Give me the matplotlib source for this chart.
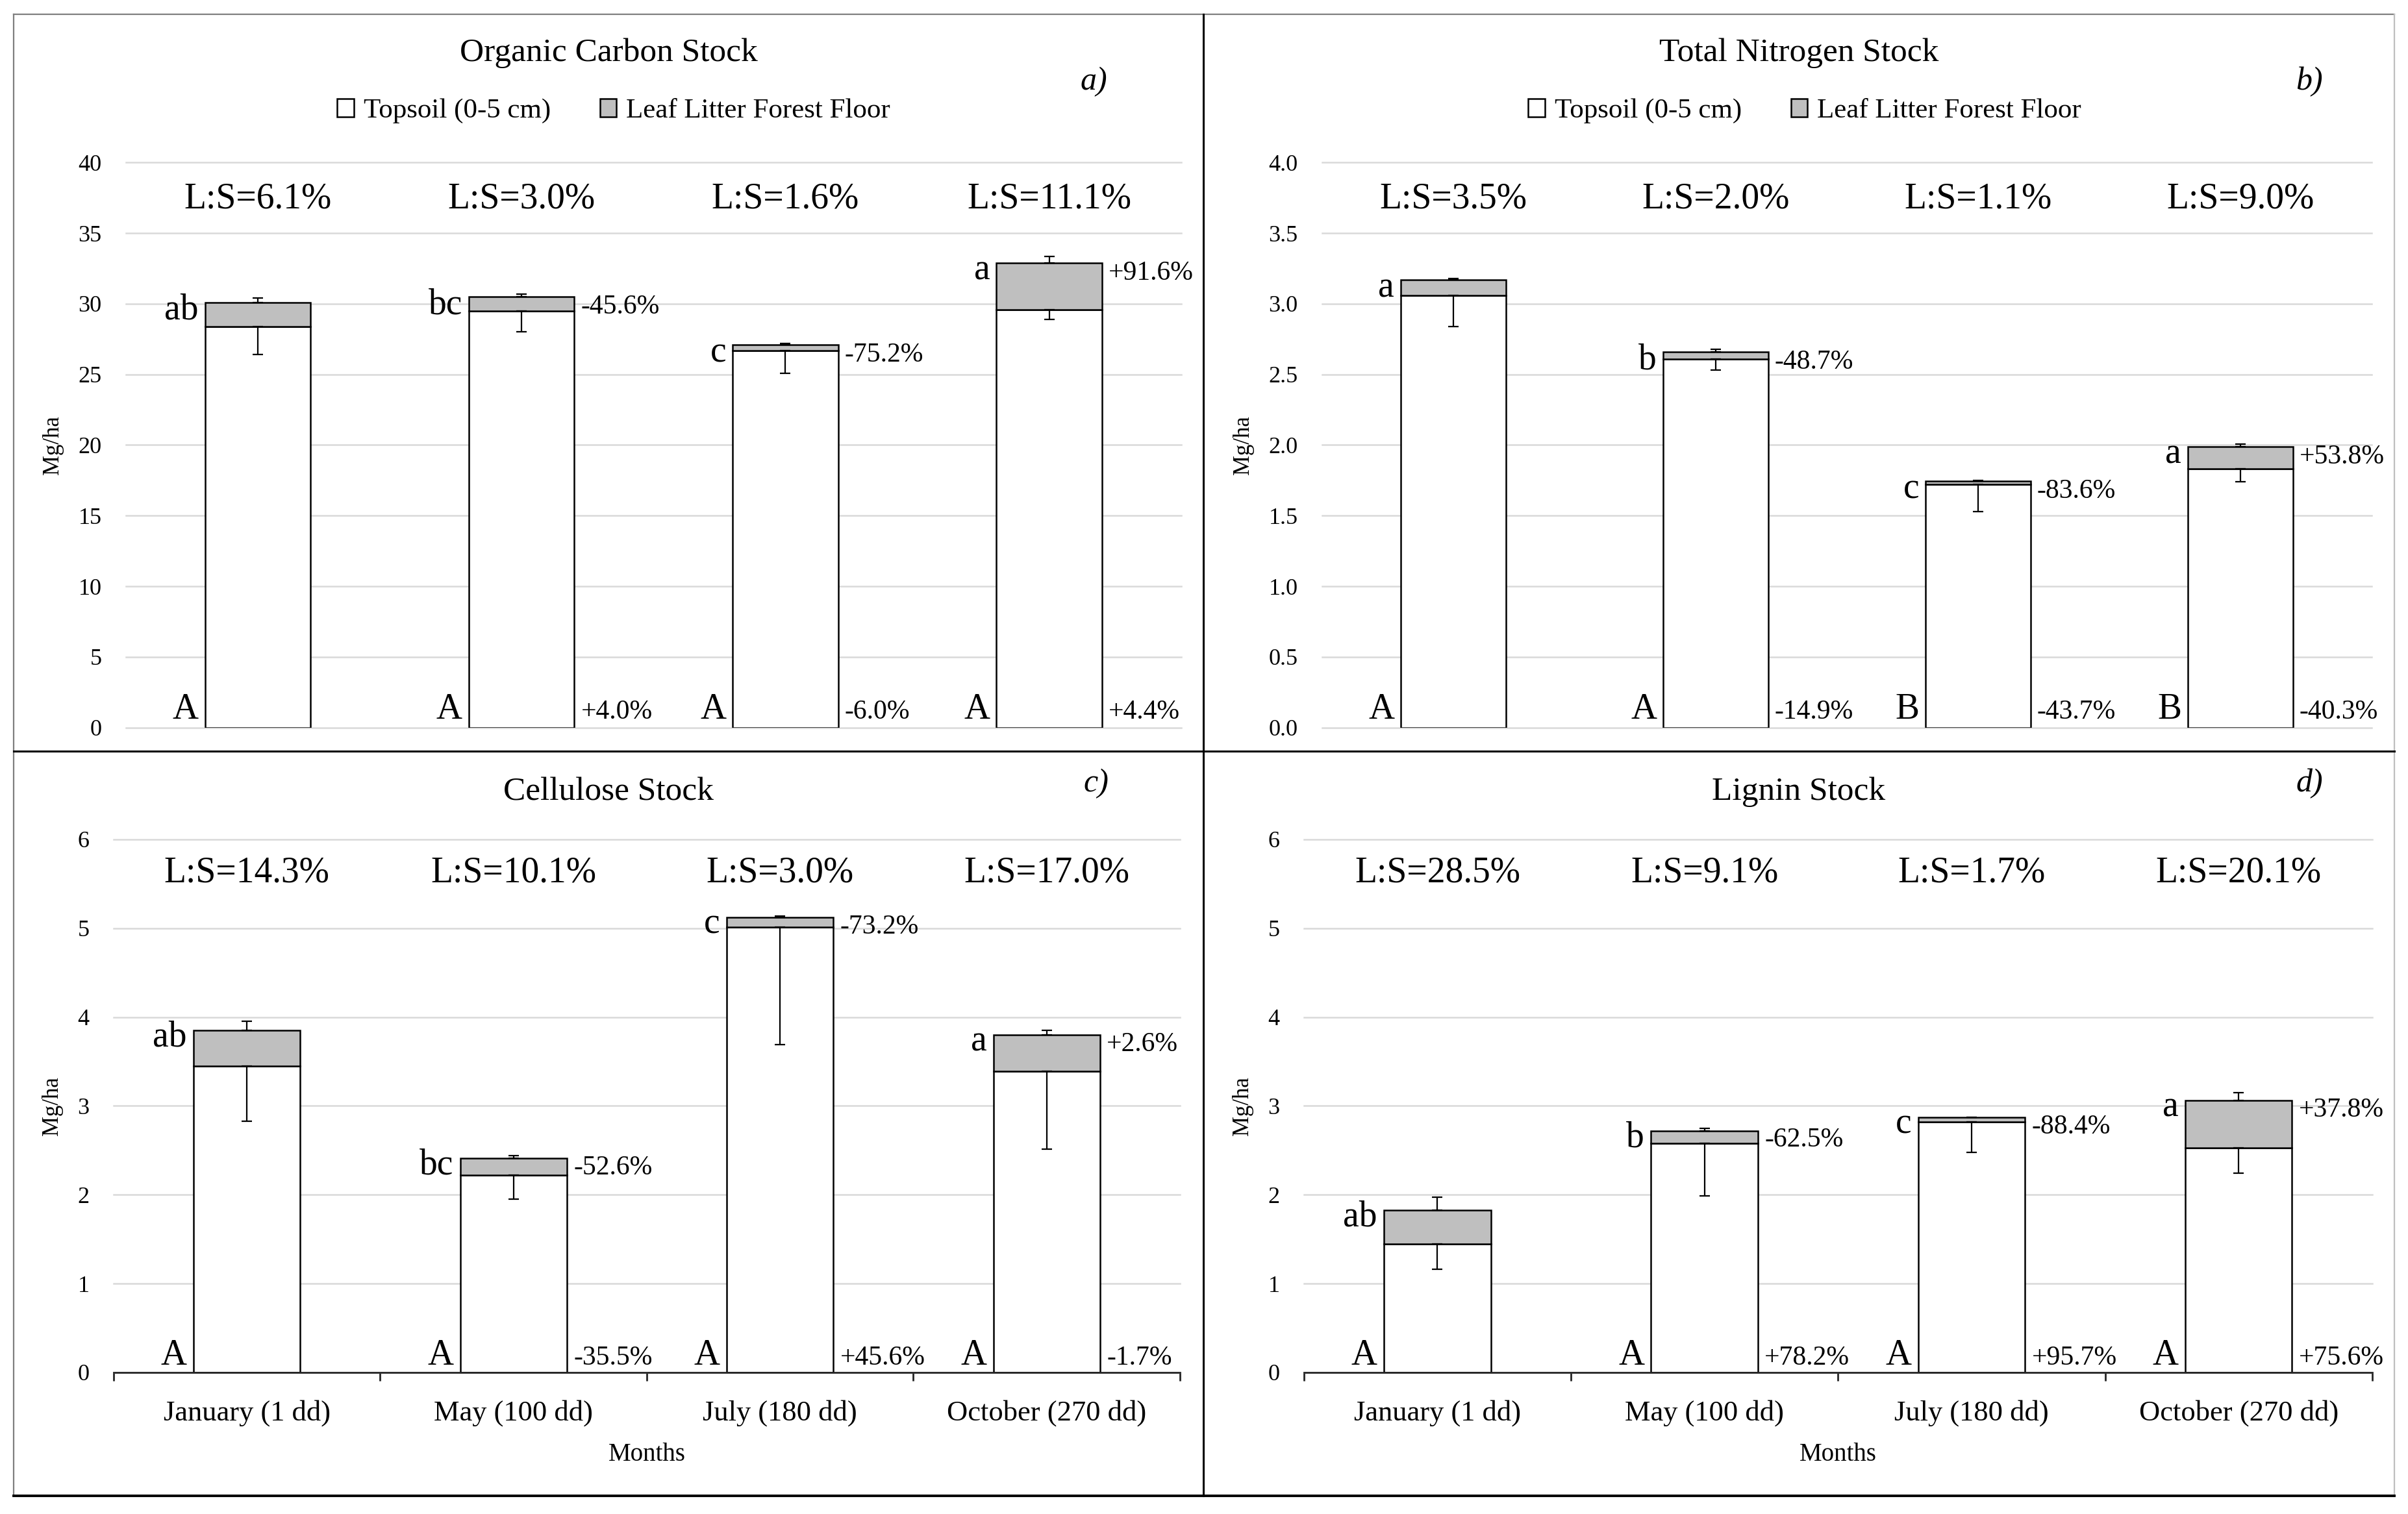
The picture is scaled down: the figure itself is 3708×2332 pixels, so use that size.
import numpy as np
import matplotlib
matplotlib.use("Agg")
import matplotlib.pyplot as plt
from matplotlib.lines import Line2D
from matplotlib.patches import Patch
from matplotlib.ticker import FormatStrFormatter, MultipleLocator

plt.rcParams["font.family"] = ["Liberation Serif", "DejaVu Serif"]

# ==================================================
# DATA (Mg/ha)
# ==================================================
months = ["January (1 dd)", "May (100 dd)", "July (180 dd)", "October (270 dd)"]

# a) Organic carbon
oc_soil = [28.4, 29.5, 26.7, 29.6]
oc_soil_err = [2.0, 1.5, 1.6, 0.7]
oc_litter = [1.7, 1.0, 0.4, 3.3]
oc_litter_err = [0.3, 0.2, 0.1, 0.45]
oc_ls = ["6.1", "3.0", "1.6", "11.1"]
oc_litter_grp = ["ab", "bc", "c", "a"]
oc_soil_grp = ["A", "A", "A", "A"]
oc_litter_pct = ["", "-45.6%", "-75.2%", "+91.6%"]
oc_soil_pct = ["", "+4.0%", "-6.0%", "+4.4%"]

# b) Total nitrogen
tn_soil = [3.06, 2.61, 1.72, 1.83]
tn_soil_err = [0.22, 0.08, 0.19, 0.09]
tn_litter = [0.11, 0.05, 0.025, 0.16]
tn_litter_err = [0.01, 0.02, 0.005, 0.015]
tn_ls = ["3.5", "2.0", "1.1", "9.0"]
tn_litter_grp = ["a", "b", "c", "a"]
tn_soil_grp = ["A", "A", "B", "B"]
tn_litter_pct = ["", "-48.7%", "-83.6%", "+53.8%"]
tn_soil_pct = ["", "-14.9%", "-43.7%", "-40.3%"]

# c) Cellulose
ce_soil = [3.45, 2.22, 5.01, 3.39]
ce_soil_err = [0.62, 0.27, 1.32, 0.88]
ce_litter = [0.40, 0.19, 0.11, 0.41]
ce_litter_err = [0.10, 0.03, 0.015, 0.05]
ce_ls = ["14.3", "10.1", "3.0", "17.0"]
ce_litter_grp = ["ab", "bc", "c", "a"]
ce_soil_grp = ["A", "A", "A", "A"]
ce_litter_pct = ["", "-52.6%", "-73.2%", "+2.6%"]
ce_soil_pct = ["", "-35.5%", "+45.6%", "-1.7%"]

# d) Lignin
lg_soil = [1.45, 2.58, 2.82, 2.53]
lg_soil_err = [0.29, 0.59, 0.34, 0.29]
lg_litter = [0.38, 0.14, 0.05, 0.53]
lg_litter_err = [0.14, 0.03, 0.005, 0.09]
lg_ls = ["28.5", "9.1", "1.7", "20.1"]
lg_litter_grp = ["ab", "b", "c", "a"]
lg_soil_grp = ["A", "A", "A", "A"]
lg_litter_pct = ["", "-62.5%", "-88.4%", "+37.8%"]
lg_soil_pct = ["", "+78.2%", "+95.7%", "+75.6%"]

SOIL_COLOR = "white"
LITTER_COLOR = "#bfbfbf"


# ==================================================
# ONE PANEL
# ==================================================
def draw_panel(ax, ymax, step, soil, soil_err, litter, litter_err, ls,
               litter_grp, soil_grp, litter_pct, soil_pct, fmt, show_x):
    x = np.arange(len(months))
    soil = np.array(soil)
    litter = np.array(litter)
    total = soil + litter
    zeros = np.zeros(len(x))

    ax.bar(x, soil, width=0.4, color=SOIL_COLOR, edgecolor="black",
           linewidth=0.9, zorder=2)
    ax.bar(x, litter, bottom=soil, width=0.4, color=LITTER_COLOR,
           edgecolor="black", linewidth=0.9, zorder=2)

    # topsoil: minus only, litter: plus only
    ax.errorbar(x, soil, yerr=[soil_err, zeros], fmt="none", ecolor="black",
                elinewidth=0.8, capsize=3.0, capthick=0.8, zorder=3)
    ax.errorbar(x, total, yerr=[zeros, litter_err], fmt="none", ecolor="black",
                elinewidth=0.8, capsize=3.0, capthick=0.8, zorder=3)

    for i in x:
        ax.text(i - 0.225, total[i] - 0.03 * ymax, litter_grp[i],
                ha="right", va="baseline", fontsize=20)
        ax.text(i - 0.225, 0.015 * ymax, soil_grp[i],
                ha="right", va="baseline", fontsize=20)
        ax.text(i + 0.225, total[i] - 0.03 * ymax, litter_pct[i],
                ha="left", va="baseline", fontsize=15)
        ax.text(i + 0.225, 0.015 * ymax, soil_pct[i],
                ha="left", va="baseline", fontsize=15)
        ax.text(i, 0.92 * ymax, f"L:S={ls[i]}%",
                ha="center", va="baseline", fontsize=20)

    ax.set_xlim(-0.5, len(x) - 0.5)
    ax.set_ylim(0, ymax)
    ax.yaxis.set_major_locator(MultipleLocator(step))
    ax.yaxis.set_major_formatter(FormatStrFormatter(fmt))
    ax.yaxis.grid(True, color="#d9d9d9", linewidth=0.9, clip_on=False)
    ax.set_axisbelow(True)
    ax.tick_params(axis="y", length=0, pad=13.5, labelsize=13)
    ax.set_ylabel("Mg/ha", fontsize=12.5, labelpad=8)

    for side in ["top", "right", "left"]:
        ax.spines[side].set_visible(False)

    if show_x:
        ax.spines["bottom"].set_color("#262626")
        ax.spines["bottom"].set_linewidth(1.0)
        ax.set_xticks(x)
        ax.set_xticklabels(months, fontsize=16)
        ax.set_xticks(np.arange(len(x) + 1) - 0.5, minor=True)
        ax.tick_params(axis="x", which="major", length=0, pad=15)
        ax.tick_params(axis="x", which="minor", length=4.8, width=1.0,
                       color="#262626", direction="out")
        ax.set_xlabel("Months", fontsize=14, labelpad=9)
    else:
        ax.spines["bottom"].set_visible(False)
        ax.set_xticks([])


# ==================================================
# FIGURE
# ==================================================
fig = plt.figure(figsize=(18.54, 11.66), dpi=200)

ax_a = fig.add_axes([0.0523, 0.5195, 0.4382, 0.3731])
ax_b = fig.add_axes([0.5491, 0.5195, 0.4358, 0.3731])
ax_c = fig.add_axes([0.0472, 0.0935, 0.4428, 0.3521])
ax_d = fig.add_axes([0.5415, 0.0935, 0.4436, 0.3521])

draw_panel(ax_a, 40, 5, oc_soil, oc_soil_err, oc_litter, oc_litter_err, oc_ls,
           oc_litter_grp, oc_soil_grp, oc_litter_pct, oc_soil_pct, "%d", False)
draw_panel(ax_b, 4.0, 0.5, tn_soil, tn_soil_err, tn_litter, tn_litter_err, tn_ls,
           tn_litter_grp, tn_soil_grp, tn_litter_pct, tn_soil_pct, "%.1f", False)
draw_panel(ax_c, 6, 1, ce_soil, ce_soil_err, ce_litter, ce_litter_err, ce_ls,
           ce_litter_grp, ce_soil_grp, ce_litter_pct, ce_soil_pct, "%d", True)
draw_panel(ax_d, 6, 1, lg_soil, lg_soil_err, lg_litter, lg_litter_err, lg_ls,
           lg_litter_grp, lg_soil_grp, lg_litter_pct, lg_soil_pct, "%d", True)

# titles and panel letters
fig.text(0.2527, 0.9648, "Organic Carbon Stock", ha="center", va="center", fontsize=18.5)
fig.text(0.7470, 0.9648, "Total Nitrogen Stock", ha="center", va="center", fontsize=18.5)
fig.text(0.2527, 0.4768, "Cellulose Stock", ha="center", va="center", fontsize=18.5)
fig.text(0.7470, 0.4768, "Lignin Stock", ha="center", va="center", fontsize=18.5)

for lx, ly, lab in [(0.4542, 0.946, "a)"), (0.959, 0.946, "b)"),
                    (0.4552, 0.4824, "c)"), (0.959, 0.4824, "d)")]:
    fig.text(lx, ly, lab, ha="center", va="center", fontsize=18, style="italic")

# legends (top panels only)
handles = [Patch(facecolor=SOIL_COLOR, edgecolor="black", linewidth=0.9,
                 label="Topsoil (0-5 cm)"),
           Patch(facecolor=LITTER_COLOR, edgecolor="black", linewidth=0.9,
                 label="Leaf Litter Forest Floor")]
for lx in [0.2549, 0.7495]:
    fig.legend(handles=handles, loc="center", bbox_to_anchor=(lx, 0.9267),
               ncol=2, frameon=False, fontsize=15.5, handlelength=0.6,
               handleheight=0.6, handletextpad=0.35, columnspacing=1.75,
               borderaxespad=0, borderpad=0)

# panel borders
x0, x1, y0, y1 = 0.00566, 0.9943, 0.012, 0.99057
xm, ym = 0.4997, 0.5039
fig.add_artist(Line2D([x0, x1], [y1, y1], color="#7f7f7f", lw=0.8))
fig.add_artist(Line2D([x0, x0], [y0, y1], color="#7f7f7f", lw=0.8))
fig.add_artist(Line2D([x1, x1], [y0, y1], color="#bfbfbf", lw=0.8))
fig.add_artist(Line2D([x0, x1], [y0, y0], color="black", lw=1.4))
fig.add_artist(Line2D([xm, xm], [y0, y1], color="black", lw=1.1))
fig.add_artist(Line2D([x0, x1], [ym, ym], color="black", lw=1.1))

fig.savefig("out.png", dpi=200, facecolor="white")
